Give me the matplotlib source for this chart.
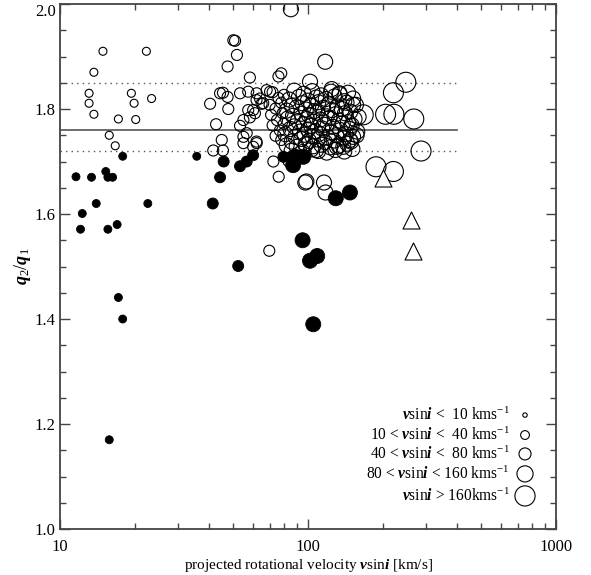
import numpy as np
import matplotlib
matplotlib.use("Agg")
import matplotlib.pyplot as plt
import matplotlib.transforms as mtransforms
from matplotlib.ticker import FixedLocator, NullFormatter

plt.rcParams['font.family'] = 'Liberation Serif'
plt.rcParams['mathtext.fontset'] = 'custom'
plt.rcParams['mathtext.rm'] = 'Liberation Serif'
plt.rcParams['mathtext.it'] = 'Liberation Serif:italic'
plt.rcParams['mathtext.bf'] = 'Liberation Serif:bold'
plt.rcParams['mathtext.bfit'] = 'Liberation Serif:italic:bold'

# open circles: (vsini, q2/q1)
open_v = [14.9, 22.3, 13.7, 13.1, 13.1, 13.7, 19.4, 19.9, 23.4, 17.2, 20.2, 15.8, 16.7,
          50.0, 50.8, 51.7, 47.4, 58.3, 40.3, 42.6, 44.9, 41.5, 45.4, 44.2, 45.4, 47.4, 47.7,
          53.2, 57.4, 62.0, 66.0, 57.4, 60.1, 54.9, 53.2, 56.6, 54.9, 62.0, 60.1, 68.1, 64.0,
          62.1, 65.0, 61.1, 70.3, 58.3, 54.9, 62.1, 69.8, 76.2, 72.5,
          85.3, 117.3, 101.9, 124.6, 78.0, 76.0, 97.5, 98.5, 116.0, 117.7, 134.0, 152.0, 167.0,
          138.8, 147.6, 157.0, 130.6, 108.0, 84.7,
          205.5, 222.0, 267.0, 221.0, 248.0, 285.6, 188.0, 221.0,
          # dense cluster
          72, 80, 88, 96, 104, 113, 124, 134, 145,
          76, 84, 92, 100, 108, 118, 128, 140, 152,
          70, 78, 86, 95, 103, 110, 121, 131, 143, 156,
          74, 82, 90, 98, 106, 115, 125, 137, 148,
          71, 79, 87, 94, 101, 109, 119, 129, 141, 160,
          75, 83, 91, 99, 105, 112, 122, 133, 145, 154,
          72, 80, 88, 96, 103, 116, 126, 138, 150,
          77, 85, 93, 100, 107, 114, 124, 135, 147, 158,
          74, 81, 89, 97, 104, 111, 120, 130, 142, 152,
          78, 86, 94, 101, 109, 117, 127, 139, 149,
          82, 90, 98, 105, 113, 123, 133, 144,
          86, 95, 103, 110, 119, 129, 140, 151]
open_q = [1.910, 1.910, 1.870, 1.830, 1.811, 1.790, 1.830, 1.811, 1.820, 1.781, 1.780, 1.750, 1.730,
          1.931, 1.930, 1.903, 1.881, 1.860, 1.810, 1.771, 1.741, 1.721, 1.721, 1.830, 1.831, 1.823, 1.800,
          1.830, 1.833, 1.817, 1.811, 1.798, 1.798, 1.779, 1.768, 1.754, 1.747, 1.738, 1.728, 1.836, 1.820,
          1.830, 1.810, 1.792, 1.833, 1.784, 1.735, 1.735, 1.530, 1.671, 1.700,
          1.990, 1.890, 1.852, 1.838, 1.868, 1.862, 1.660, 1.662, 1.660, 1.641, 1.830, 1.808, 1.789,
          1.728, 1.741, 1.750, 1.728, 1.722, 1.703,
          1.790, 1.790, 1.781, 1.831, 1.851, 1.720, 1.690, 1.681,
          1.832, 1.827, 1.835, 1.829, 1.834, 1.826, 1.833, 1.828, 1.831,
          1.821, 1.818, 1.823, 1.816, 1.822, 1.819, 1.824, 1.815, 1.820,
          1.808, 1.812, 1.806, 1.811, 1.807, 1.813, 1.809, 1.805, 1.812, 1.808,
          1.801, 1.797, 1.803, 1.799, 1.796, 1.802, 1.798, 1.800, 1.795,
          1.789, 1.792, 1.787, 1.791, 1.788, 1.793, 1.786, 1.790, 1.792, 1.785,
          1.779, 1.782, 1.777, 1.781, 1.776, 1.780, 1.783, 1.778, 1.775, 1.781,
          1.769, 1.772, 1.767, 1.771, 1.768, 1.770, 1.766, 1.773, 1.769,
          1.759, 1.762, 1.757, 1.761, 1.758, 1.763, 1.756, 1.760, 1.762, 1.757,
          1.749, 1.752, 1.747, 1.751, 1.748, 1.753, 1.746, 1.750, 1.752, 1.747,
          1.741, 1.738, 1.743, 1.739, 1.742, 1.737, 1.740, 1.744, 1.738,
          1.731, 1.728, 1.733, 1.729, 1.732, 1.727, 1.730, 1.734,
          1.721, 1.718, 1.723, 1.720, 1.717, 1.722, 1.719, 1.724]

# filled circles
fill_v = [17.9, 35.6, 11.6, 13.4, 15.3, 15.6, 16.3, 14.0, 22.6, 12.3, 12.1, 15.6, 17.0,
          17.2, 17.9, 15.8, 41.3, 45.7, 44.2, 53.2, 56.6, 60.1, 52.3, 95.1, 108.9, 101.9,
          105.0, 129.4, 147.6, 79.6, 88.8, 95.7, 87.1]
fill_q = [1.710, 1.710, 1.671, 1.670, 1.681, 1.670, 1.670, 1.620, 1.620, 1.601, 1.571, 1.571, 1.580,
          1.441, 1.400, 1.170, 1.620, 1.700, 1.670, 1.691, 1.700, 1.712, 1.501, 1.550, 1.520, 1.511,
          1.390, 1.630, 1.641, 1.709, 1.709, 1.709, 1.693]

# triangles
tri_v = [201.5, 260.0, 264.0]
tri_q = [1.668, 1.589, 1.530]

# reference lines
q_mean = 1.76
q_low, q_high = 1.72, 1.85

legend_labels = [r"$\mathbfit{v}$sin$\mathbfit{i}$ <  10 kms$^{-1}$",
                 r"10 < $\mathbfit{v}$sin$\mathbfit{i}$ <  40 kms$^{-1}$",
                 r"40 < $\mathbfit{v}$sin$\mathbfit{i}$ <  80 kms$^{-1}$",
                 r"80 < $\mathbfit{v}$sin$\mathbfit{i}$ < 160 kms$^{-1}$",
                 r"$\mathbfit{v}$sin$\mathbfit{i}$ > 160kms$^{-1}$"]

bin_edges = [10, 40, 80, 160]
bin_sizes = [8, 33, 63, 117, 207]


def sizes(v):
    return [bin_sizes[np.searchsorted(bin_edges, x)] for x in v]


fig = plt.figure(figsize=(5.91, 5.75), dpi=100)
ax = fig.add_axes([0.1015, 0.08, 0.8393, 0.913])
ax.set_xscale('log')
ax.set_xlim(10, 1000)
ax.set_ylim(1.0, 2.0)

ax.plot([10, 400], [q_mean, q_mean], color='#555555', lw=1.2, zorder=1)
ax.plot([10, 400], [q_low, q_low], color='#555555', lw=1.0, ls=(0, (1, 3)), zorder=1)
ax.plot([10, 400], [q_high, q_high], color='#555555', lw=1.0, ls=(0, (1, 3)), zorder=1)

ax.scatter(open_v, open_q, s=sizes(open_v), facecolors='none', edgecolors='black', linewidths=0.8, zorder=2)
ax.scatter(fill_v, fill_q, s=sizes(fill_v), facecolors='black', edgecolors='black', linewidths=0.6, zorder=3)
ax.scatter(tri_v, tri_q, s=150, marker='^', facecolors='white', edgecolors='black', linewidths=0.8, zorder=4)

# size legend
leg_y = [0.217, 0.179, 0.143, 0.105, 0.063]
leg_sizes = [10, 40, 75, 135, 210]
for lab, yy, ss in zip(legend_labels, leg_y, leg_sizes):
    ax.text(0.907, yy, lab, transform=ax.transAxes, ha='right', va='center', fontsize=11.2)
    ax.scatter([0.9375], [yy], s=ss, transform=ax.transAxes, facecolors='none',
               edgecolors='black', linewidths=0.8, clip_on=False)

ax.set_yticks([1.0, 1.2, 1.4, 1.6, 1.8, 2.0])
ax.set_yticklabels(['1.0', '1.2', '1.4', '1.6', '1.8', '2.0'])
ax.yaxis.set_minor_locator(FixedLocator(np.arange(1.0, 2.001, 0.05)))
ax.set_xticks([10, 100, 1000])
ax.set_xticklabels(['10', '100', '1000'])
ax.xaxis.set_minor_locator(FixedLocator([k * 10 ** d for d in (1, 2) for k in range(2, 10)]))
ax.xaxis.set_minor_formatter(NullFormatter())
ax.tick_params(which='both', direction='in', top=True, right=True, labelsize=12, color='#444444')
ax.tick_params(which='major', length=7, width=1.0)
ax.tick_params(which='minor', length=4, width=1.0)
ax.tick_params(axis='y', which='major', pad=3)
ax.tick_params(axis='x', which='major', pad=7)
for sp in ax.spines.values():
    sp.set_color('#444444')
    sp.set_linewidth(1.3)

# keep the top "2.0" label inside the figure
top_lab = ax.get_yticklabels()[-1]
top_lab.set_transform(top_lab.get_transform() + mtransforms.ScaledTranslation(0, -4 / 72, fig.dpi_scale_trans))

ax.set_xlabel(r"projected rotational velocity $\mathbfit{v}$sin$\mathbfit{i}$ [km/s]", fontsize=11, labelpad=2)
ax.set_ylabel(r"$\mathbfit{q}_2/\mathbfit{q}_1$", fontsize=13, labelpad=1)

plt.savefig("out.png", dpi=100)
